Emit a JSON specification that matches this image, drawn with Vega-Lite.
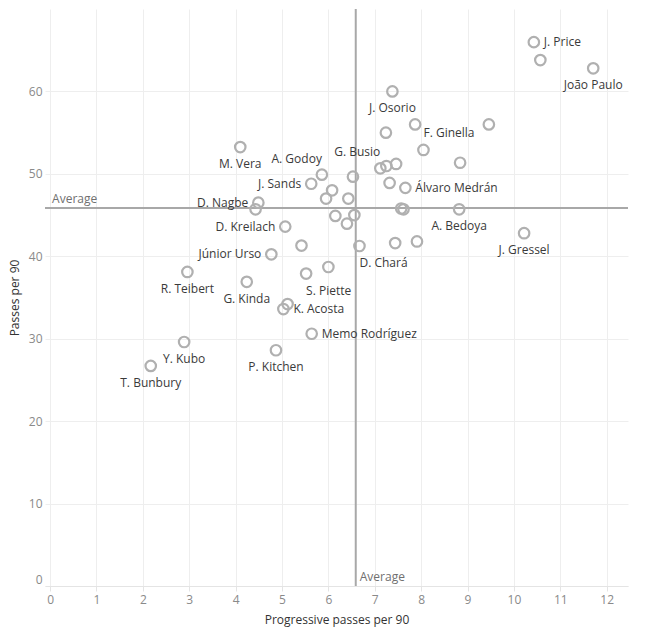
{
  "$schema": "https://vega.github.io/schema/vega-lite/v6.json",
  "width": 583,
  "height": 577,
  "autosize": {"type": "none"},
  "padding": {"left": 45, "top": 9, "right": 41, "bottom": 49},
  "background": "white",
  "config": {
    "view": {"stroke": null},
    "font": "Open Sans",
    "axis": {
      "labelFont": "Open Sans",
      "titleFont": "Open Sans",
      "labelFontSize": 12,
      "titleFontSize": 12,
      "labelColor": "#8a8a8a",
      "titleColor": "#333333",
      "titleFontWeight": "normal",
      "gridColor": "#eeeeee",
      "gridWidth": 1
    }
  },
  "datasets": {
    "players": [
      {"player": "J. Price", "prog": 10.43, "passes": 65.98},
      {"player": "", "prog": 10.57, "passes": 63.8},
      {"player": "João Paulo", "prog": 11.71, "passes": 62.8},
      {"player": "J. Osorio", "prog": 7.38, "passes": 60.0},
      {"player": "", "prog": 7.24, "passes": 55.0},
      {"player": "", "prog": 7.87, "passes": 56.0},
      {"player": "", "prog": 9.46, "passes": 56.0},
      {"player": "M. Vera", "prog": 4.10, "passes": 53.25},
      {"player": "F. Ginella", "prog": 8.05, "passes": 52.9},
      {"player": "", "prog": 8.84, "passes": 51.35},
      {"player": "G. Busio", "prog": 7.12, "passes": 50.67},
      {"player": "", "prog": 7.25, "passes": 50.95},
      {"player": "", "prog": 7.46, "passes": 51.2},
      {"player": "A. Godoy", "prog": 5.86, "passes": 49.9},
      {"player": "", "prog": 6.53, "passes": 49.66},
      {"player": "J. Sands", "prog": 5.63, "passes": 48.8},
      {"player": "", "prog": 6.08, "passes": 48.0},
      {"player": "", "prog": 5.95, "passes": 47.0},
      {"player": "", "prog": 6.43, "passes": 47.0},
      {"player": "", "prog": 7.32, "passes": 48.9},
      {"player": "Álvaro Medrán", "prog": 7.66, "passes": 48.3},
      {"player": "", "prog": 7.57, "passes": 45.8},
      {"player": "", "prog": 7.62, "passes": 45.7},
      {"player": "A. Bedoya", "prog": 8.82, "passes": 45.7},
      {"player": "D. Nagbe", "prog": 4.49, "passes": 46.5},
      {"player": "", "prog": 4.43, "passes": 45.7},
      {"player": "", "prog": 6.15, "passes": 44.9},
      {"player": "", "prog": 6.56, "passes": 45.0},
      {"player": "", "prog": 6.40, "passes": 43.96},
      {"player": "D. Kreilach", "prog": 5.07, "passes": 43.6},
      {"player": "", "prog": 5.42, "passes": 41.3},
      {"player": "D. Chará", "prog": 6.67, "passes": 41.25},
      {"player": "", "prog": 7.44, "passes": 41.6},
      {"player": "", "prog": 7.91, "passes": 41.8},
      {"player": "J. Gressel", "prog": 10.22, "passes": 42.8},
      {"player": "Júnior Urso", "prog": 4.77, "passes": 40.24},
      {"player": "R. Teibert", "prog": 2.96, "passes": 38.1},
      {"player": "G. Kinda", "prog": 4.24, "passes": 36.9},
      {"player": "S. Piette", "prog": 5.52, "passes": 37.9},
      {"player": "", "prog": 6.0, "passes": 38.7},
      {"player": "", "prog": 5.12, "passes": 34.2},
      {"player": "K. Acosta", "prog": 5.03, "passes": 33.6},
      {"player": "Memo Rodríguez", "prog": 5.64, "passes": 30.6},
      {"player": "Y. Kubo", "prog": 2.89, "passes": 29.6},
      {"player": "P. Kitchen", "prog": 4.87, "passes": 28.6},
      {"player": "T. Bunbury", "prog": 2.17, "passes": 26.7}
    ],
    "averages": [
      {"avgProg": 6.59, "avgPasses": 45.85, "edgeProg": 0, "edgePasses": 0}
    ]
  },
  "layer": [
    {
      "data": {"name": "averages"},
      "mark": {"type": "rule", "color": "#a8a8a8", "strokeWidth": 2},
      "encoding": {
        "x": {"field": "avgProg", "type": "quantitative", "scale": {"domain": [-0.11, 12.46], "nice": false, "zero": false}}
      }
    },
    {
      "data": {"name": "averages"},
      "mark": {"type": "rule", "color": "#a8a8a8", "strokeWidth": 2},
      "encoding": {
        "y": {"field": "avgPasses", "type": "quantitative", "scale": {"domain": [0, 70], "nice": false, "zero": false}}
      }
    },
    {
      "data": {"name": "averages"},
      "mark": {"type": "text", "text": "Average", "align": "left", "baseline": "middle", "dx": 2, "dy": -9, "fontSize": 12, "color": "#707070"},
      "encoding": {
        "x": {"field": "edgeProg", "type": "quantitative"},
        "y": {"field": "avgPasses", "type": "quantitative"}
      }
    },
    {
      "data": {"name": "averages"},
      "mark": {"type": "text", "text": "Average", "align": "left", "baseline": "middle", "dx": 4, "dy": -9, "fontSize": 12, "color": "#707070"},
      "encoding": {
        "x": {"field": "avgProg", "type": "quantitative"},
        "y": {"field": "edgePasses", "type": "quantitative"}
      }
    },
    {
      "data": {"name": "players"},
      "layer": [
        {
          "mark": {"type": "point", "shape": "circle", "filled": false, "size": 110, "strokeWidth": 2.2, "color": "#b0b0b0", "opacity": 1}
        },
        {
          "transform": [{"filter": {"field": "player", "oneOf": ["J. Price", "Álvaro Medrán", "K. Acosta", "Memo Rodríguez"]}}],
          "mark": {"type": "text", "align": "left", "baseline": "middle", "dx": 10, "fontSize": 12, "color": "#3a3a3a"},
          "encoding": {"text": {"field": "player"}}
        },
        {
          "transform": [{"filter": {"field": "player", "oneOf": ["J. Sands", "D. Nagbe", "D. Kreilach", "Júnior Urso"]}}],
          "mark": {"type": "text", "align": "right", "baseline": "middle", "dx": -10, "fontSize": 12, "color": "#3a3a3a"},
          "encoding": {"text": {"field": "player"}}
        },
        {
          "transform": [{"filter": {"field": "player", "oneOf": ["João Paulo", "J. Osorio", "M. Vera", "R. Teibert", "G. Kinda", "Y. Kubo", "P. Kitchen", "T. Bunbury", "A. Bedoya", "J. Gressel"]}}],
          "mark": {"type": "text", "align": "center", "baseline": "middle", "dy": 17, "fontSize": 12, "color": "#3a3a3a"},
          "encoding": {"text": {"field": "player"}}
        },
        {
          "transform": [{"filter": {"field": "player", "oneOf": ["D. Chará", "S. Piette"]}}],
          "mark": {"type": "text", "align": "left", "baseline": "middle", "dy": 17, "fontSize": 12, "color": "#3a3a3a"},
          "encoding": {"text": {"field": "player"}}
        },
        {
          "transform": [{"filter": {"field": "player", "oneOf": ["F. Ginella"]}}],
          "mark": {"type": "text", "align": "left", "baseline": "middle", "dy": -17, "fontSize": 12, "color": "#3a3a3a"},
          "encoding": {"text": {"field": "player"}}
        },
        {
          "transform": [{"filter": {"field": "player", "oneOf": ["A. Godoy", "G. Busio"]}}],
          "mark": {"type": "text", "align": "right", "baseline": "middle", "dy": -16, "fontSize": 12, "color": "#3a3a3a"},
          "encoding": {"text": {"field": "player"}}
        }
      ],
      "encoding": {
        "x": {
          "field": "prog",
          "type": "quantitative",
          "axis": {
            "title": "Progressive passes per 90",
            "values": [0, 1, 2, 3, 4, 5, 6, 7, 8, 9, 10, 11, 12],
            "grid": true,
            "domainColor": "#e4e4e4",
            "tickColor": "#e4e4e4",
            "tickSize": 5,
            "labelPadding": 3,
            "titlePadding": 9
          }
        },
        "y": {
          "field": "passes",
          "type": "quantitative",
          "axis": {
            "title": "Passes per 90",
            "values": [0, 10, 20, 30, 40, 50, 60],
            "grid": true,
            "domain": false,
            "ticks": false,
            "labelPadding": 3,
            "labelFlush": true,
            "titlePadding": 7
          }
        }
      }
    }
  ]
}
